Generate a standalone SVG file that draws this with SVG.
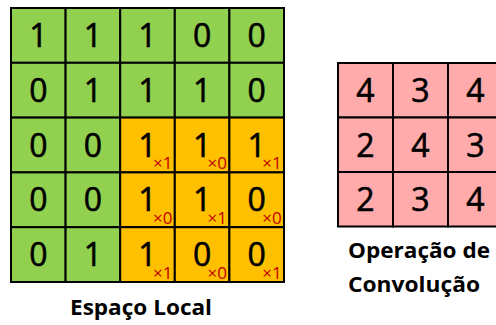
<svg xmlns="http://www.w3.org/2000/svg" width="496" height="325" viewBox="0 0 496 325">
  <style>
    .g { fill: #92D050; stroke: #000; stroke-width: 2; }
    .o { fill: #FFC000; stroke: #000; stroke-width: 2; }
    .p { fill: #FFABAB; stroke: #000; stroke-width: 2; }
    .d { font-family: "Open Sans", "DejaVu Sans", sans-serif; font-size: 32px; font-weight: 500; fill: #000; stroke: #000; stroke-width: 0.6; text-anchor: middle; }
    .w { font-family: "Open Sans", "DejaVu Sans", sans-serif; font-size: 17px; fill: #C00000; }
    .lbl { font-family: "Open Sans", "DejaVu Sans", sans-serif; font-size: 21px; font-weight: bold; fill: #000; }
  </style>

  <!-- 5x5 input grid -->
  <g id="espaco-local">
    <rect x="12" y="9" width="273" height="274" fill="#9a9a9a" opacity="0.5"/>
    <!-- row 1 -->
    <rect class="g" x="11" y="8" width="54.6" height="54.8"/>
    <rect class="g" x="65.6" y="8" width="54.6" height="54.8"/>
    <rect class="g" x="120.2" y="8" width="54.6" height="54.8"/>
    <rect class="g" x="174.8" y="8" width="54.6" height="54.8"/>
    <rect class="g" x="229.4" y="8" width="54.6" height="54.8"/>
    <!-- row 2 -->
    <rect class="g" x="11" y="62.8" width="54.6" height="54.8"/>
    <rect class="g" x="65.6" y="62.8" width="54.6" height="54.8"/>
    <rect class="g" x="120.2" y="62.8" width="54.6" height="54.8"/>
    <rect class="g" x="174.8" y="62.8" width="54.6" height="54.8"/>
    <rect class="g" x="229.4" y="62.8" width="54.6" height="54.8"/>
    <!-- row 3 -->
    <rect class="g" x="11" y="117.6" width="54.6" height="54.8"/>
    <rect class="g" x="65.6" y="117.6" width="54.6" height="54.8"/>
    <rect class="o" x="120.2" y="117.6" width="54.6" height="54.8"/>
    <rect class="o" x="174.8" y="117.6" width="54.6" height="54.8"/>
    <rect class="o" x="229.4" y="117.6" width="54.6" height="54.8"/>
    <!-- row 4 -->
    <rect class="g" x="11" y="172.4" width="54.6" height="54.8"/>
    <rect class="g" x="65.6" y="172.4" width="54.6" height="54.8"/>
    <rect class="o" x="120.2" y="172.4" width="54.6" height="54.8"/>
    <rect class="o" x="174.8" y="172.4" width="54.6" height="54.8"/>
    <rect class="o" x="229.4" y="172.4" width="54.6" height="54.8"/>
    <!-- row 5 -->
    <rect class="g" x="11" y="227.2" width="54.6" height="54.8"/>
    <rect class="g" x="65.6" y="227.2" width="54.6" height="54.8"/>
    <rect class="o" x="120.2" y="227.2" width="54.6" height="54.8"/>
    <rect class="o" x="174.8" y="227.2" width="54.6" height="54.8"/>
    <rect class="o" x="229.4" y="227.2" width="54.6" height="54.8"/>

    <!-- values -->
    <text class="d" x="38.3" y="47">1</text>
    <text class="d" x="92.9" y="47">1</text>
    <text class="d" x="147.5" y="47">1</text>
    <text class="d" x="202.1" y="47">0</text>
    <text class="d" x="256.7" y="47">0</text>

    <text class="d" x="38.3" y="101.8">0</text>
    <text class="d" x="92.9" y="101.8">1</text>
    <text class="d" x="147.5" y="101.8">1</text>
    <text class="d" x="202.1" y="101.8">1</text>
    <text class="d" x="256.7" y="101.8">0</text>

    <text class="d" x="38.3" y="156.6">0</text>
    <text class="d" x="92.9" y="156.6">0</text>
    <text class="d" x="147.5" y="156.6">1</text>
    <text class="d" x="202.1" y="156.6">1</text>
    <text class="d" x="256.7" y="156.6">1</text>

    <text class="d" x="38.3" y="211.4">0</text>
    <text class="d" x="92.9" y="211.4">0</text>
    <text class="d" x="147.5" y="211.4">1</text>
    <text class="d" x="202.1" y="211.4">1</text>
    <text class="d" x="256.7" y="211.4">0</text>

    <text class="d" x="38.3" y="266.2">0</text>
    <text class="d" x="92.9" y="266.2">1</text>
    <text class="d" x="147.5" y="266.2">1</text>
    <text class="d" x="202.1" y="266.2">0</text>
    <text class="d" x="256.7" y="266.2">0</text>

    <!-- kernel weights -->
    <text class="w" x="153" y="169">×1</text>
    <text class="w" x="207.6" y="169">×0</text>
    <text class="w" x="262.2" y="169">×1</text>
    <text class="w" x="153" y="223.8">×0</text>
    <text class="w" x="207.6" y="223.8">×1</text>
    <text class="w" x="262.2" y="223.8">×0</text>
    <text class="w" x="153" y="278.6">×1</text>
    <text class="w" x="207.6" y="278.6">×0</text>
    <text class="w" x="262.2" y="278.6">×1</text>
  </g>

  <!-- 3x3 result grid -->
  <g id="convolucao">
    <rect class="p" x="338" y="63" width="55" height="54.5"/>
    <rect class="p" x="393" y="63" width="55" height="54.5"/>
    <rect class="p" x="448" y="63" width="55" height="54.5"/>
    <rect class="p" x="338" y="117.5" width="55" height="54.5"/>
    <rect class="p" x="393" y="117.5" width="55" height="54.5"/>
    <rect class="p" x="448" y="117.5" width="55" height="54.5"/>
    <rect class="p" x="338" y="172" width="55" height="54.5"/>
    <rect class="p" x="393" y="172" width="55" height="54.5"/>
    <rect class="p" x="448" y="172" width="55" height="54.5"/>

    <text class="d" x="365.5" y="102">4</text>
    <text class="d" x="420.5" y="102">3</text>
    <text class="d" x="475.5" y="102">4</text>
    <text class="d" x="365.5" y="156.5">2</text>
    <text class="d" x="420.5" y="156.5">4</text>
    <text class="d" x="475.5" y="156.5">3</text>
    <text class="d" x="365.5" y="211">2</text>
    <text class="d" x="420.5" y="211">3</text>
    <text class="d" x="475.5" y="211">4</text>
  </g>

  <!-- captions -->
  <g id="legenda-espaco">
    <text class="lbl" x="70" y="315" textLength="142" lengthAdjust="spacingAndGlyphs">Espaço Local</text>
  </g>
  <g id="legenda-convolucao">
    <text class="lbl" x="348" y="258" textLength="142" lengthAdjust="spacingAndGlyphs">Operação de</text>
    <text class="lbl" x="348" y="292" textLength="132" lengthAdjust="spacingAndGlyphs">Convolução</text>
  </g>
</svg>
